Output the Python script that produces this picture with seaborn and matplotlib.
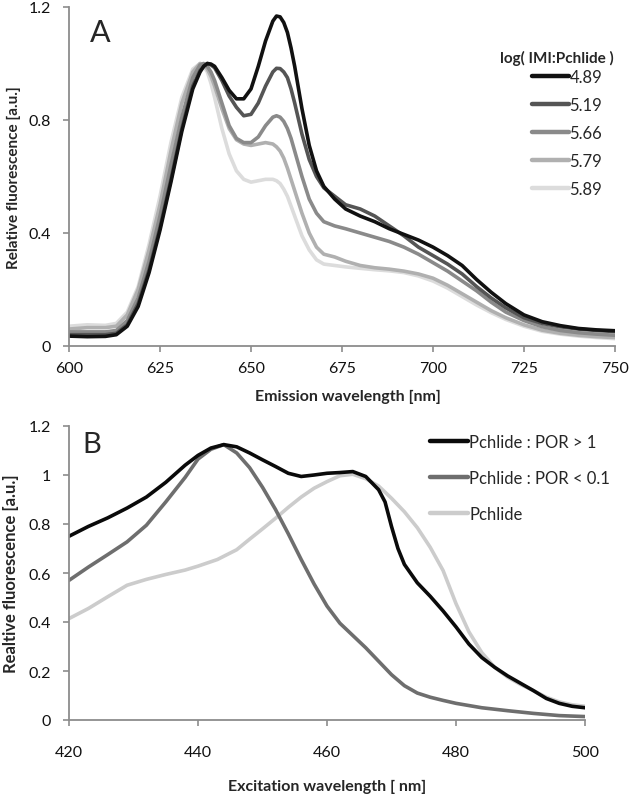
import numpy as np
import pandas as pd
import matplotlib
matplotlib.use("Agg")
import matplotlib.pyplot as plt
import seaborn as sns
from matplotlib.lines import Line2D

# ---------------- Panel A data (emission spectra) ----------------
em_wl = [600, 605, 610, 613, 616, 619, 622, 625, 628, 631,
         634, 636, 637, 638, 639, 640, 642, 644, 646, 648,
         650, 652, 654, 656, 657, 658, 659, 660, 661, 662,
         663, 664, 666, 668, 670, 673, 676, 680, 684, 688,
         692, 696, 700, 704, 708, 712, 716, 720, 725, 730,
         735, 740, 745, 750]
a_489 = [0.035, 0.033, 0.034, 0.04, 0.07, 0.14, 0.26, 0.41, 0.58, 0.76,
         0.91, 0.97, 0.99, 1.0, 0.998, 0.99, 0.95, 0.905, 0.875, 0.875,
         0.91, 0.99, 1.08, 1.15, 1.168, 1.165, 1.145, 1.11, 1.055, 0.99,
         0.915, 0.84, 0.71, 0.62, 0.565, 0.52, 0.485, 0.46, 0.44, 0.415,
         0.395, 0.375, 0.35, 0.32, 0.285, 0.235, 0.19, 0.15, 0.11, 0.086,
         0.072, 0.062, 0.057, 0.054]
a_519 = [0.04, 0.04, 0.04, 0.045, 0.075, 0.15, 0.27, 0.42, 0.59, 0.77,
         0.92, 0.975, 0.99, 1.0, 0.995, 0.985, 0.94, 0.885, 0.845, 0.815,
         0.82, 0.86, 0.92, 0.97, 0.983, 0.982, 0.97, 0.95, 0.91, 0.86,
         0.805, 0.75, 0.66, 0.6, 0.56, 0.53, 0.5, 0.485, 0.46, 0.425,
         0.39, 0.35, 0.32, 0.29, 0.255, 0.21, 0.17, 0.135, 0.1, 0.08,
         0.068, 0.06, 0.055, 0.051]
a_566 = [0.05, 0.05, 0.05, 0.055, 0.09, 0.17, 0.3, 0.46, 0.64, 0.81,
         0.95, 0.995, 1.0, 0.99, 0.97, 0.94, 0.86, 0.78, 0.735, 0.72,
         0.72, 0.74, 0.78, 0.81, 0.815, 0.81, 0.795, 0.77, 0.735, 0.69,
         0.645, 0.6, 0.52, 0.47, 0.44, 0.425, 0.415, 0.4, 0.385, 0.37,
         0.35, 0.325, 0.295, 0.265, 0.23, 0.195, 0.155, 0.12, 0.09, 0.068,
         0.055, 0.047, 0.042, 0.038]
a_579 = [0.06, 0.065, 0.065, 0.07, 0.11, 0.2, 0.34, 0.5, 0.69, 0.86,
         0.97, 1.0, 0.995, 0.98, 0.955, 0.92, 0.84, 0.77, 0.73, 0.715,
         0.71, 0.715, 0.72, 0.715, 0.705, 0.69, 0.665, 0.63, 0.59, 0.55,
         0.51, 0.47, 0.4, 0.35, 0.325, 0.315, 0.3, 0.285, 0.277, 0.272,
         0.265, 0.255, 0.24, 0.215, 0.185, 0.155, 0.125, 0.1, 0.075, 0.056,
         0.045, 0.038, 0.033, 0.03]
a_589 = [0.07, 0.075, 0.073, 0.08, 0.12, 0.21, 0.36, 0.53, 0.72, 0.88,
         0.98, 1.0, 0.99, 0.97, 0.93, 0.88, 0.77, 0.68, 0.62, 0.59,
         0.58, 0.585, 0.59, 0.59, 0.585, 0.575, 0.555, 0.53, 0.495, 0.46,
         0.425, 0.39, 0.34, 0.305, 0.29, 0.285, 0.28, 0.275, 0.27, 0.266,
         0.26, 0.248, 0.23, 0.205, 0.175, 0.145, 0.118, 0.094, 0.07, 0.052,
         0.042, 0.035, 0.03, 0.026]
a_labels = ["4.89", "5.19", "5.66", "5.79", "5.89"]
a_colors = ["#111111", "#555555", "#8a8a8a", "#b0b0b0", "#dcdcdc"]

# ---------------- Panel B data (excitation spectra) ----------------
ex_black = [420, 423, 426, 429, 432, 435, 438, 440, 442, 444, 446, 448, 450,
            452, 454, 456, 458, 460, 462, 464, 466, 468, 469, 470, 471, 472, 474,
            476, 478, 480, 482, 484, 486, 488, 490, 492, 494, 496, 498, 500]
b_black = [0.75, 0.79, 0.825, 0.865, 0.91, 0.97, 1.04, 1.08, 1.11, 1.124, 1.115, 1.09, 1.062,
           1.035, 1.007, 0.994, 1.0, 1.007, 1.01, 1.014, 0.994, 0.94, 0.89, 0.79, 0.70, 0.635, 0.56,
           0.505, 0.445, 0.38, 0.31, 0.255, 0.215, 0.18, 0.15, 0.12, 0.088, 0.068, 0.056, 0.05]
ex_dark = [420, 423, 426, 429, 432, 435, 438, 440, 442, 444, 446, 448, 450,
           452, 454, 456, 458, 460, 462, 464, 466, 468, 470, 472, 474, 476, 478, 480,
           484, 488, 492, 496, 500]
b_dark = [0.57, 0.624, 0.675, 0.727, 0.795, 0.89, 0.99, 1.065, 1.105, 1.124, 1.09, 1.03, 0.95,
          0.86, 0.76, 0.655, 0.555, 0.465, 0.395, 0.345, 0.295, 0.24, 0.185, 0.14, 0.11, 0.093, 0.08, 0.068,
          0.05, 0.038, 0.027, 0.018, 0.014]
ex_light = [420, 423, 426, 429, 432, 435, 438, 440, 443, 446, 448, 450,
            452, 454, 456, 458, 460, 462, 464, 466, 468, 470, 472, 474, 476, 478, 480,
            482, 484, 486, 488, 490, 492, 494, 496, 498, 500]
b_light = [0.414, 0.455, 0.503, 0.55, 0.574, 0.594, 0.612, 0.628, 0.655, 0.695, 0.738, 0.78,
           0.823, 0.868, 0.91, 0.946, 0.973, 0.997, 1.003, 0.985, 0.955, 0.905, 0.85, 0.785, 0.705, 0.61, 0.475,
           0.36, 0.275, 0.215, 0.175, 0.145, 0.12, 0.093, 0.074, 0.062, 0.056]
b_labels = ["Pchlide : POR > 1", "Pchlide : POR < 0.1", "Pchlide"]
b_colors = ["#0a0a0a", "#6e6e6e", "#cccccc"]

sns.set_style("white")
plt.rcParams["font.family"] = ["Lato", "DejaVu Sans"]

W, H = 633, 803
fig = plt.figure(figsize=(W / 100, H / 100), dpi=100)


def rect(l, t, r, b):
    return [l / W, 1 - b / H, (r - l) / W, (b - t) / H]


axA = fig.add_axes(rect(69, 8, 615, 347))
axB = fig.add_axes(rect(69, 427, 585, 721))

dfA = pd.concat([pd.DataFrame({"wl": em_wl, "val": v, "series": lab})
                 for v, lab in zip([a_489, a_519, a_566, a_579, a_589], a_labels)])
sns.lineplot(data=dfA, x="wl", y="val", hue="series", hue_order=a_labels[::-1],
             palette=dict(zip(a_labels, a_colors)), linewidth=2.6, ax=axA,
             sort=False, estimator=None, legend=False)

dfB = pd.concat([
    pd.DataFrame({"wl": ex_black, "val": b_black, "series": b_labels[0]}),
    pd.DataFrame({"wl": ex_dark, "val": b_dark, "series": b_labels[1]}),
    pd.DataFrame({"wl": ex_light, "val": b_light, "series": b_labels[2]}),
])
sns.lineplot(data=dfB, x="wl", y="val", hue="series", hue_order=b_labels[::-1],
             palette=dict(zip(b_labels, b_colors)), linewidth=2.6, ax=axB,
             sort=False, estimator=None, legend=False)

spine_c = "#8c8c8c"
for ax in (axA, axB):
    for s in ("top", "right"):
        ax.spines[s].set_visible(False)
    for s in ("left", "bottom"):
        ax.spines[s].set_color(spine_c)
        ax.spines[s].set_linewidth(1.3)
    ax.tick_params(axis="both", which="major", direction="out", length=4,
                   width=1.2, color=spine_c, labelsize=11.5, labelcolor="#111111",
                   left=True, bottom=True)
    ax.tick_params(axis="y", pad=9)

axA.tick_params(axis="x", pad=7)
axB.tick_params(axis="x", pad=14)

axA.set_xlim(600, 750)
axA.set_ylim(0, 1.2)
axA.set_xticks([600, 625, 650, 675, 700, 725, 750])
axA.set_yticks([0, 0.4, 0.8, 1.2])
axA.set_yticklabels(["0", "0.4", "0.8", "1.2"])
axA.set_xlabel("Emission wavelength [nm]", fontsize=11.5, fontweight="bold")
axA.set_ylabel("Relative fluorescence [a.u.]", fontsize=11, fontweight="bold")
axA.xaxis.set_label_coords(0.51, (347 - 390) / 339)
axA.yaxis.set_label_coords((21 - 69) / 546, 0.5)
axA.text(0.038, (347 - 42) / 339, "A", transform=axA.transAxes, fontsize=22,
         va="baseline", ha="left")

axB.set_xlim(420, 500)
axB.set_ylim(0, 1.2)
axB.set_xticks([420, 440, 460, 480, 500])
axB.set_yticks([0, 0.2, 0.4, 0.6, 0.8, 1.0, 1.2])
axB.set_yticklabels(["0", "0.2", "0.4", "0.6", "0.8", "1", "1.2"])
axB.set_xlabel("Excitation wavelength [ nm]", fontsize=11.5, fontweight="bold")
axB.set_ylabel("Realtive fluorescence [a.u.]", fontsize=12, fontweight="bold")
axB.xaxis.set_label_coords(0.5, (721 - 780) / 294)
axB.yaxis.set_label_coords((19 - 69) / 516, 0.5)
axB.text(0.025, (721 - 453) / 294, "B", transform=axB.transAxes, fontsize=21,
         va="baseline", ha="left")

# legends
hA = [Line2D([], [], color=c, linewidth=3.2) for c in a_colors]
legA = axA.legend(hA, a_labels, loc="upper left",
                  bbox_to_anchor=(532 / W, 1 - 70 / H), bbox_transform=fig.transFigure,
                  frameon=False, fontsize=12, handlelength=2.2, handletextpad=0.05,
                  labelspacing=0.72, borderaxespad=0, borderpad=0)
fig.text(557 / W, 1 - 58 / H, "log( IMI:Pchlide )", ha="center", va="center",
         fontsize=11, fontweight="bold")

hB = [Line2D([], [], color=c, linewidth=3.2) for c in b_colors]
legB = axB.legend(hB, b_labels, loc="upper left",
                  bbox_to_anchor=(430 / W, 1 - 435 / H), bbox_transform=fig.transFigure,
                  frameon=False, fontsize=12, handlelength=2.3, handletextpad=0.05,
                  labelspacing=1.2, borderaxespad=0, borderpad=0)

fig.savefig("out.png", dpi=100)
